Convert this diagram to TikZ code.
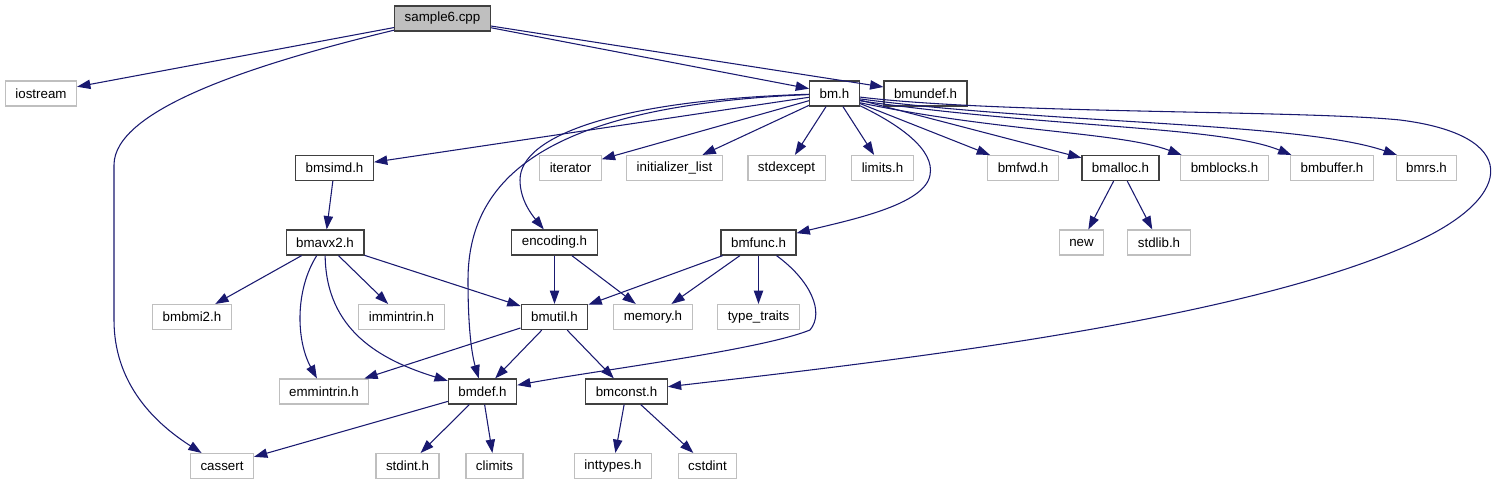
\documentclass[tikz,border=0pt]{standalone}
\usepackage{fontspec}
\setmainfont{Liberation Sans}
\usetikzlibrary{arrows.meta}
\definecolor{edgeblue}{HTML}{191970}
\definecolor{boxgray}{HTML}{BFBFBF}
\definecolor{boxdark}{HTML}{404040}
\tikzset{
    hdr/.style={rectangle, draw=boxdark, line width=0.9pt, fill=white, minimum height=18.75pt, inner xsep=7.5pt, font=\fontsize{10}{12}\selectfont},
    sys/.style={hdr, draw=boxgray, line width=0.8pt},
    src/.style={hdr, fill=boxgray},
    arr/.style={-{Triangle[length=10pt, width=7pt]}, edgeblue, line width=0.8pt},
}

\begin{document}
\begin{tikzpicture}[x=0.75pt, y=-0.75pt]

\useasboundingbox (0,0) rectangle (1499,485);

% ── Row 0: source ──
\node[src] (s6) at (442.5, 18.5) {sample6.cpp};

% ── Row 1 ──
\node[sys] (iostream) at (41, 93.5) {iostream};
\node[hdr] (bm) at (834.5, 93.5) {bm.h};
\node[hdr] (bmundef) at (925.5, 93.5) {bmundef.h};

% ── Row 2 ──
\node[hdr] (bmsimd) at (334.5, 168) {bmsimd.h};
\node[sys] (iter) at (570.5, 168) {iterator};
\node[sys] (initlist) at (674.5, 168) {initializer\_list};
\node[sys] (stdexc) at (786.5, 168) {stdexcept};
\node[sys] (limits) at (882.5, 168) {limits.h};
\node[sys] (bmfwd) at (1023, 168) {bmfwd.h};
\node[hdr] (bmalloc) at (1120.5, 168) {bmalloc.h};
\node[sys] (bmblocks) at (1224.5, 168) {bmblocks.h};
\node[sys] (bmbuffer) at (1332, 168) {bmbuffer.h};
\node[sys] (bmrs) at (1426.5, 168) {bmrs.h};

% ── Row 3 ──
\node[hdr] (bmavx2) at (325, 242.5) {bmavx2.h};
\node[hdr] (encoding) at (554.5, 242.5) {encoding.h};
\node[hdr] (bmfunc) at (758.5, 242.5) {bmfunc.h};
\node[sys] (newh) at (1081.5, 242.5) {new};
\node[sys] (stdlib) at (1159, 242.5) {stdlib.h};

% ── Row 4 ──
\node[sys] (bmbmi2) at (192, 317) {bmbmi2.h};
\node[sys] (immintrin) at (401.5, 317) {immintrin.h};
\node[hdr] (bmutil) at (554.5, 317) {bmutil.h};
\node[sys] (memory) at (653, 317) {memory.h};
\node[sys] (typetr) at (758.5, 317) {type\_traits};

% ── Row 5 ──
\node[sys] (emmintrin) at (324, 391.5) {emmintrin.h};
\node[hdr] (bmdef) at (482.5, 391.5) {bmdef.h};
\node[hdr] (bmconst) at (626.5, 391.5) {bmconst.h};

% ── Row 6 ──
\node[sys] (cassert) at (222, 466) {cassert};
\node[sys] (stdint) at (407.5, 466) {stdint.h};
\node[sys] (climits) at (494.5, 466) {climits};
\node[sys] (inttypes) at (613, 466) {inttypes.h};
\node[sys] (cstdint) at (707.5, 466) {cstdint};

% ── sample6.cpp ──
\draw[arr] (s6) -- (iostream);
\draw[arr] (s6) -- (bm);
\draw[arr] (s6) -- (bmundef);
\draw[arr] (s6) .. controls (250,65) and (114,110) .. (114,165)
    -- (114,320) .. controls (114,380) and (150,420) .. (cassert);

% ── bm.h ──
\draw[arr] (bm) -- (bmsimd);
\draw[arr] (bm) -- (iter);
\draw[arr] (bm) -- (initlist);
\draw[arr] (bm) -- (stdexc);
\draw[arr] (bm) -- (limits);
\draw[arr] (bm) -- (bmfwd);
\draw[arr] (bm) -- (bmalloc);
\draw[arr] (bm.-20) .. controls (1000,132) and (1120,132) .. ([xshift=1pt]bmblocks.north west);
\draw[arr] (bm.-16) .. controls (1050,128) and (1220,126) .. ([xshift=1pt]bmbuffer.north west);
\draw[arr] (bm.-12) .. controls (1050,124) and (1300,122) .. ([xshift=1pt]bmrs.north west);
\draw[arr] (bm) .. controls (620,100) and (520,135) .. (520,180)
    .. controls (520,200) and (532,215) .. (encoding);
\draw[arr] (bm) .. controls (560,105) and (468,170) .. (468,280)
    .. controls (468,330) and (472,355) .. (bmdef);
\draw[arr] (bm) .. controls (900,125) and (935,150) .. (930,175)
    .. controls (925,205) and (850,220) .. (bmfunc);
\draw[arr] (bm.-8) .. controls (1000,114) and (1300,110) .. (1400,120)
    .. controls (1520,135) and (1515,195) .. (1420,240)
    .. controls (1250,320) and (900,360) .. (bmconst);

% ── bmalloc.h ──
\draw[arr] (bmalloc) -- (newh);
\draw[arr] (bmalloc) -- (stdlib);

% ── bmsimd.h / bmavx2.h ──
\draw[arr] (bmsimd) -- (bmavx2);
\draw[arr] (bmavx2) -- (bmbmi2);
\draw[arr] (bmavx2) -- (immintrin);
\draw[arr] (bmavx2) -- (bmutil);
\draw[arr] (bmavx2) .. controls (295,290) and (296,340) .. (emmintrin);
\draw[arr] (bmavx2) .. controls (326,330) and (380,360) .. (bmdef);

% ── encoding.h / bmfunc.h ──
\draw[arr] (encoding) -- (bmutil);
\draw[arr] (encoding) -- (memory);
\draw[arr] (bmfunc) -- (bmutil);
\draw[arr] (bmfunc) -- (memory);
\draw[arr] (bmfunc) -- (typetr);
\draw[arr] (bmfunc) .. controls (810,280) and (825,312) .. (810,330)
    .. controls (760,350) and (600,370) .. (bmdef);

% ── bmutil.h ──
\draw[arr] (bmutil) -- (emmintrin);
\draw[arr] (bmutil) -- (bmdef);
\draw[arr] (bmutil) -- (bmconst);

% ── bmdef.h / bmconst.h ──
\draw[arr] (bmdef) -- (cassert);
\draw[arr] (bmdef) -- (stdint);
\draw[arr] (bmdef) -- (climits);
\draw[arr] (bmconst) -- (inttypes);
\draw[arr] (bmconst) -- (cstdint);

\end{tikzpicture}
\end{document}
